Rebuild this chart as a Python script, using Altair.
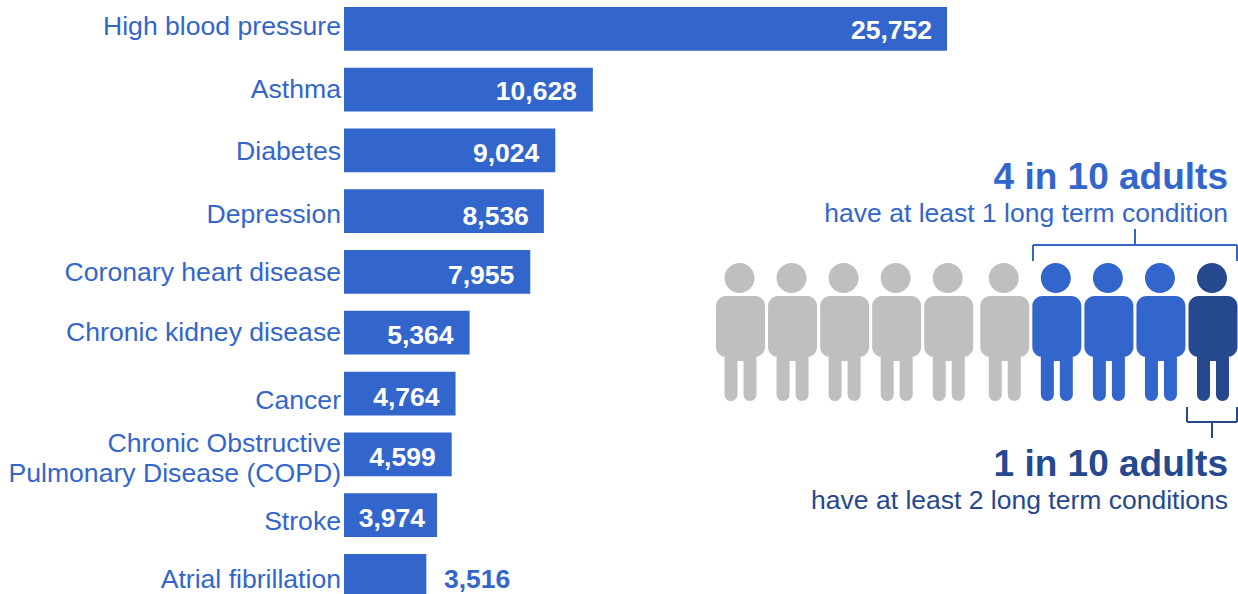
import altair as alt
import pandas as pd

W, H = 1238, 594
BLUE, NAVY, GREY = "#3366CC", "#25488E", "#BFBFBF"
FONT = "Liberation Sans"

conditions = ["High blood pressure", "Asthma", "Diabetes", "Depression",
              "Coronary heart disease", "Chronic kidney disease", "Cancer",
              "Chronic Obstructive\nPulmonary Disease (COPD)", "Stroke",
              "Atrial fibrillation"]
patients = [25752, 10628, 9024, 8536, 7955, 5364, 4764, 4599, 3974, 3516]

# Nudges for the category names and the value labels, one per row
name_dy = [-2, 0, 2, 4, 1, 0, 7, -10, 7, 4]
value_dx = [-15, -16, -16, -15, -16, -16, -16, -16, -12, 84]
value_dy = [2, 2, 4, 6, 4, 3, 4, 4, 4, 4]

person_rows = list(range(1, 11))
person_groups = ["none"] * 6 + ["one", "one", "one", "two"]
person_gap = [0, 0, 0, 0, 0, 4, 4, 4, 4, 4]

df = pd.DataFrame({"name": conditions, "value": patients})


def bar_x(field="value"):
    return alt.X(f"{field}:Q", axis=None, scale=alt.Scale(domain=[0, 25752], range=[344, 947]))


bar_y = alt.Y("name:N", axis=None, sort=None,
              scale=alt.Scale(type="band", domain=conditions, range=[7, 597.7],
                              paddingInner=0.28, paddingOuter=0))

layers = [
    alt.Chart(df).mark_bar(color=BLUE, cornerRadius=0, clip=False).encode(x=bar_x(), y=bar_y)
]

# Row labels sit at slightly different heights, so each row is its own layer
for i, name in enumerate(conditions):
    row = df.iloc[[i]].assign(zero=0)
    layers.append(
        alt.Chart(row).mark_text(align="right", baseline="middle", dx=-3, dy=name_dy[i],
                                 font=FONT, fontSize=26.6, color=BLUE, lineBreak="\n",
                                 lineHeight=30)
        .encode(x=bar_x("zero"), y=bar_y, text="name:N")
    )
    layers.append(
        alt.Chart(row).mark_text(align="right", baseline="middle", dx=value_dx[i], dy=value_dy[i],
                                 font=FONT, fontSize=26.5, fontWeight="bold",
                                 color=BLUE if value_dx[i] > 0 else "white")
        .encode(x=bar_x(), y=bar_y, text=alt.Text("value:Q", format=","))
    )

# Pictogram of ten adults, coloured by how many long term conditions they have
person_path = (
    "M-16,-54 A15,15 0 1 1 14,-54 A15,15 0 1 1 -16,-54 Z "
    "M-14.5,-36 H14.5 A10,10 0 0 1 24.5,-26 V15 A10,10 0 0 1 14.5,25 H-14.5 "
    "A10,10 0 0 1 -24.5,15 V-26 A10,10 0 0 1 -14.5,-36 Z "
    "M-16,20 H16 V29 H-16 Z "
    "M-16,25 H-3 V62.5 A6.5,6.5 0 0 1 -16,62.5 Z "
    "M3,25 H16 V62.5 A6.5,6.5 0 0 1 3,62.5 Z"
)
people = pd.DataFrame({"person": person_rows, "group": person_groups, "gap": person_gap})
people["slot"] = people["person"] + people["gap"] / 52.3
layers.append(
    alt.Chart(people).mark_point(shape=person_path, filled=True, size=4, opacity=1, strokeWidth=0)
    .encode(
        x=alt.X("slot:Q", axis=None, scale=alt.Scale(domain=[1, 10.0765], range=[740.5, 1213])),
        y=alt.value(332),
        color=alt.Color("group:N", legend=None,
                        scale=alt.Scale(domain=["none", "one", "two"], range=[GREY, BLUE, NAVY])),
    )
)

canvas_x = alt.Scale(domain=[0, W], range=[0, W])
canvas_y = alt.Scale(domain=[0, H], range=[0, H])


def bracket(x0, x1, y0, y1, ystem, colour):
    """Square bracket opening towards y0, with a short stem at its middle."""
    mid = (x0 + x1) / 2
    seg = pd.DataFrame({
        "x": [x0, x0, x1, mid],
        "x2": [x1, x0, x1, mid],
        "y": [y1, y0, y0, y1],
        "y2": [y1, y1, y1, ystem],
    })
    return alt.Chart(seg).mark_rule(color=colour, strokeWidth=2).encode(
        x=alt.X("x:Q", axis=None, scale=canvas_x), x2="x2:Q",
        y=alt.Y("y:Q", axis=None, scale=canvas_y), y2="y2:Q",
    )


layers.append(bracket(1033, 1237, 261, 245, 229, BLUE))
layers.append(bracket(1187, 1237, 407, 422, 438, NAVY))

callouts = [
    ("4 in 10 adults", 178, 37, "bold", BLUE),
    ("have at least 1 long term condition", 214, 26.5, "normal", BLUE),
    ("1 in 10 adults", 465, 37, "bold", NAVY),
    ("have at least 2 long term conditions", 501, 26.5, "normal", NAVY),
]
for text, y, size, weight, colour in callouts:
    layers.append(
        alt.Chart(pd.DataFrame({"t": [text], "x": [1228], "y": [y]}))
        .mark_text(align="right", baseline="middle", font=FONT, fontSize=size,
                   fontWeight=weight, color=colour)
        .encode(x=alt.X("x:Q", axis=None, scale=canvas_x),
                y=alt.Y("y:Q", axis=None, scale=canvas_y), text="t:N")
    )

chart = (
    alt.layer(*layers)
    .resolve_scale(x="independent", y="independent", color="independent")
    .properties(width=W, height=H, padding=0, autosize=alt.AutoSizeParams(type="none"),
                background="white")
    .configure_view(stroke=None)
)

chart.save("out.html", embed_options={"renderer": "svg", "actions": False})
